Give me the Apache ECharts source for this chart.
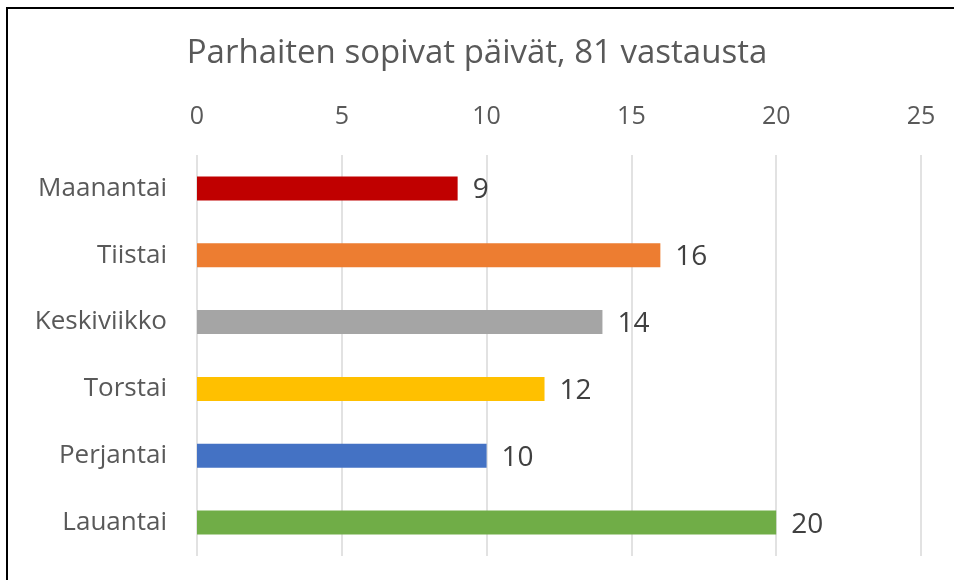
<!DOCTYPE html>
<html>
<head>
<meta charset="utf-8">
<script src="https://cdn.jsdelivr.net/npm/echarts@6/dist/echarts.min.js"></script>
<style>
  html, body { margin: 0; padding: 0; background: #fff; }
  #chart { width: 954px; height: 580px; }
</style>
</head>
<body>
<div id="chart"></div>
<script>
// 数据
const days   = ['Maanantai', 'Tiistai', 'Keskiviikko', 'Torstai', 'Perjantai', 'Lauantai'];
const counts = [9, 16, 14, 12, 10, 20];
const colors = ['#C00000', '#ED7D31', '#A5A5A5', '#FFC000', '#4472C4', '#70AD47'];

const FONT = '"Open Sans", "Noto Sans", sans-serif';

const chart = echarts.init(document.getElementById('chart'), null, { renderer: 'canvas' });

chart.setOption({
  backgroundColor: '#fff',
  animation: false,
  title: {
    text: 'Parhaiten sopivat päivät, 81 vastausta',
    left: 'center',
    top: 32,
    textStyle: { color: '#595959', fontSize: 33, fontWeight: 'normal', fontFamily: FONT },
  },
  grid: { left: 197, right: 33, top: 155, bottom: 24, containLabel: false },
  xAxis: {
    type: 'value',
    position: 'top',
    min: 0, max: 25, interval: 5,
    axisLine: { show: false },
    axisTick: { show: false },
    splitLine: { lineStyle: { color: '#D9D9D9', width: 1.5 } },
    axisLabel: { color: '#595959', fontSize: 25, fontFamily: FONT, margin: 26 },
  },
  yAxis: {
    type: 'category',
    data: days,
    inverse: true,
    axisLine: { show: false },
    axisTick: { show: false },
    axisLabel: { color: '#595959', fontSize: 26, fontFamily: FONT, margin: 30 },
  },
  series: [{
    type: 'bar',
    barWidth: 24,
    data: counts.map((v, i) => ({ value: v, itemStyle: { color: colors[i] } })),
    label: {
      show: true,
      position: 'right',
      distance: 15,
      offset: [0, 2],
      color: '#404040',
      fontSize: 28,
      fontFamily: FONT,
    },
  }],
  graphic: [
    { type: 'line', shape: { x1: 7, y1: 8, x2: 7, y2: 580 }, style: { stroke: '#000', lineWidth: 2 } },
    { type: 'line', shape: { x1: 6, y1: 8, x2: 954, y2: 8 }, style: { stroke: '#000', lineWidth: 2 } },
  ],
});
</script>
</body>
</html>
